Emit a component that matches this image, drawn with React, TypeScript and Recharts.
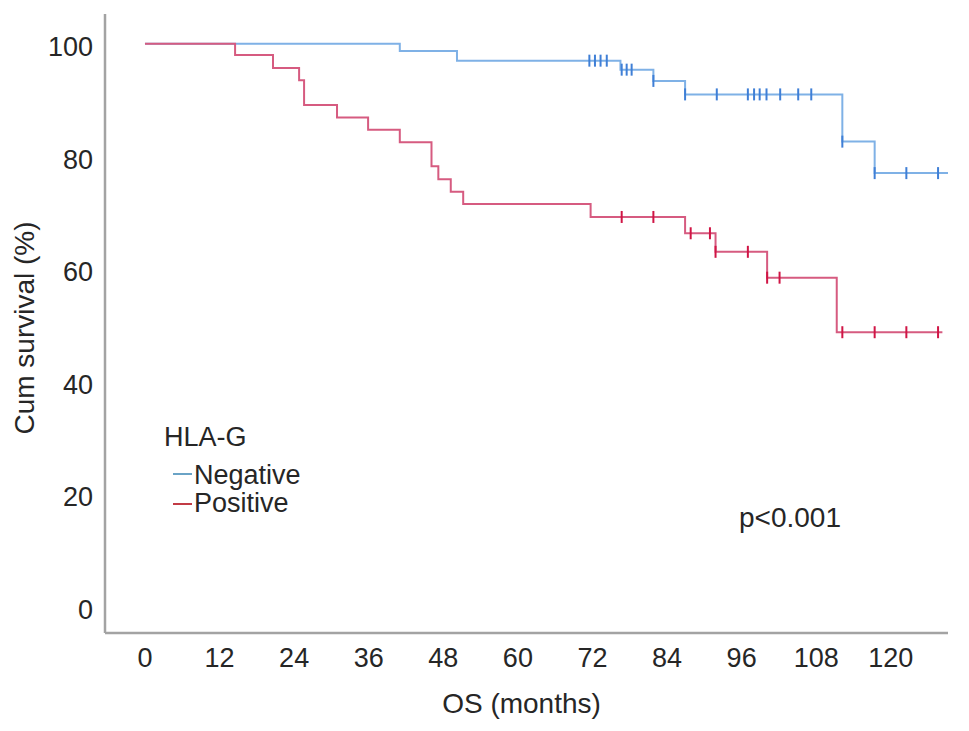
import React from 'react';
import { ComposedChart, Line, Scatter, XAxis, YAxis } from 'recharts';

const monthTicks = [0, 12, 24, 36, 48, 60, 72, 84, 96, 108, 120];
const survivalTicks = [0, 20, 40, 60, 80, 100];

const negativeTimes = [0, 41.0, 50.2, 76.5, 81.8, 86.9, 112.2, 117.4, 129.2];
const negativeSurvival = [100, 98.7, 97.0, 95.4, 93.4, 91.0, 82.6, 77.0, 77.0];
const negativeCensorTimes = [71.5, 72.4, 73.3, 74.3, 76.7, 77.5, 78.3, 81.8, 86.9, 92.0, 97.0, 98.0, 98.9, 100.0, 102.2, 105.1, 107.2, 112.2, 117.4, 122.5, 127.6];
const negativeCensorSurvival = [97.0, 97.0, 97.0, 97.0, 95.4, 95.4, 95.4, 93.4, 91.0, 91.0, 91.0, 91.0, 91.0, 91.0, 91.0, 91.0, 91.0, 82.6, 77.0, 77.0, 77.0];

const positiveTimes = [0, 14.5, 20.6, 24.8, 25.6, 30.9, 35.9, 41.0, 46.1, 47.2, 49.2, 51.2, 71.7, 86.9, 91.8, 100.1, 111.3, 128.3];
const positiveSurvival = [100, 98.0, 95.7, 93.5, 89.1, 86.9, 84.7, 82.5, 78.2, 75.9, 73.7, 71.5, 69.2, 66.3, 63.0, 58.4, 48.7, 48.7];
const positiveCensorTimes = [76.7, 81.8, 87.8, 90.9, 91.8, 97.0, 100.1, 102.1, 112.2, 117.4, 122.5, 127.6];
const positiveCensorSurvival = [69.2, 69.2, 66.3, 66.3, 63.0, 63.0, 58.4, 58.4, 48.7, 48.7, 48.7, 48.7];

const zip = (ts: number[], ss: number[]) => ts.map((t, i) => ({ t, s: ss[i] }));

const negativeCurve = zip(negativeTimes, negativeSurvival);
const negativeCensors = zip(negativeCensorTimes, negativeCensorSurvival);
const positiveCurve = zip(positiveTimes, positiveSurvival);
const positiveCensors = zip(positiveCensorTimes, positiveCensorSurvival);

const FONT = '"Liberation Sans", Arial, Helvetica, sans-serif';
const AXIS_COLOR = '#a3a3a3';
const TEXT_COLOR = '#262626';

const makeCensor = (color: string) => (props: any) => {
  const { cx, cy } = props;
  if (cx == null || cy == null) return <g />;
  return <line x1={cx} x2={cx} y1={cy - 6} y2={cy + 6} stroke={color} strokeWidth={2} />;
};

export default function App() {
  return (
    <div style={{ position: 'absolute', left: 0, top: 0, width: 969, height: 731, background: '#fff' }}>
      <ComposedChart width={969} height={731} margin={{ top: 14, right: 21, left: 45, bottom: 58 }}>
        <XAxis
          dataKey="t"
          type="number"
          domain={[-6.43, 129.2]}
          ticks={monthTicks}
          interval={0}
          allowDataOverflow
          height={40}
          tickLine={false}
          tickMargin={9}
          axisLine={{ stroke: AXIS_COLOR, strokeWidth: 2.5 }}
          tick={{ fill: TEXT_COLOR, fontSize: 27, fontFamily: FONT }}
        />
        <YAxis
          dataKey="s"
          type="number"
          domain={[-4.8, 105.3]}
          ticks={survivalTicks}
          interval={0}
          allowDataOverflow
          width={60}
          tickLine={false}
          tickMargin={6}
          axisLine={{ stroke: AXIS_COLOR, strokeWidth: 2.5 }}
          tick={{ fill: TEXT_COLOR, fontSize: 27, fontFamily: FONT, dy: 3 }}
        />
        <Line data={negativeCurve} dataKey="s" type="stepAfter" stroke="#7fb1e6" strokeWidth={2} dot={false} activeDot={false} isAnimationActive={false} />
        <Scatter data={negativeCensors} dataKey="s" fill="#3f7fd6" shape={makeCensor('#3f7fd6')} isAnimationActive={false} />
        <Line data={positiveCurve} dataKey="s" type="stepAfter" stroke="#d65b80" strokeWidth={2} dot={false} activeDot={false} isAnimationActive={false} />
        <Scatter data={positiveCensors} dataKey="s" fill="#d01545" shape={makeCensor('#d01545')} isAnimationActive={false} />
      </ComposedChart>
      <svg width={969} height={731} style={{ position: 'absolute', left: 0, top: 0, pointerEvents: 'none' }}>
        <g fontFamily={FONT} fill={TEXT_COLOR} fontSize={28}>
          <text x={521.5} y={713} textAnchor="middle">OS (months)</text>
          <text transform="translate(34,328) rotate(-90)" textAnchor="middle">Cum survival (%)</text>
        </g>
        <g fontFamily={FONT} fill={TEXT_COLOR} fontSize={27}>
          <text x={164} y={446}>HLA-G</text>
          <line x1={173} x2={192} y1={474} y2={474} stroke="#6aa3c6" strokeWidth={2} />
          <text x={194} y={483.5}>Negative</text>
          <line x1={173} x2={192} y1={504} y2={504} stroke="#c23b45" strokeWidth={2} />
          <text x={194} y={512}>Positive</text>
        </g>
        <g fontFamily={FONT} fill={TEXT_COLOR} fontSize={28}>
          <text x={739} y={527}>p&lt;0.001</text>
        </g>
      </svg>
    </div>
  );
}
